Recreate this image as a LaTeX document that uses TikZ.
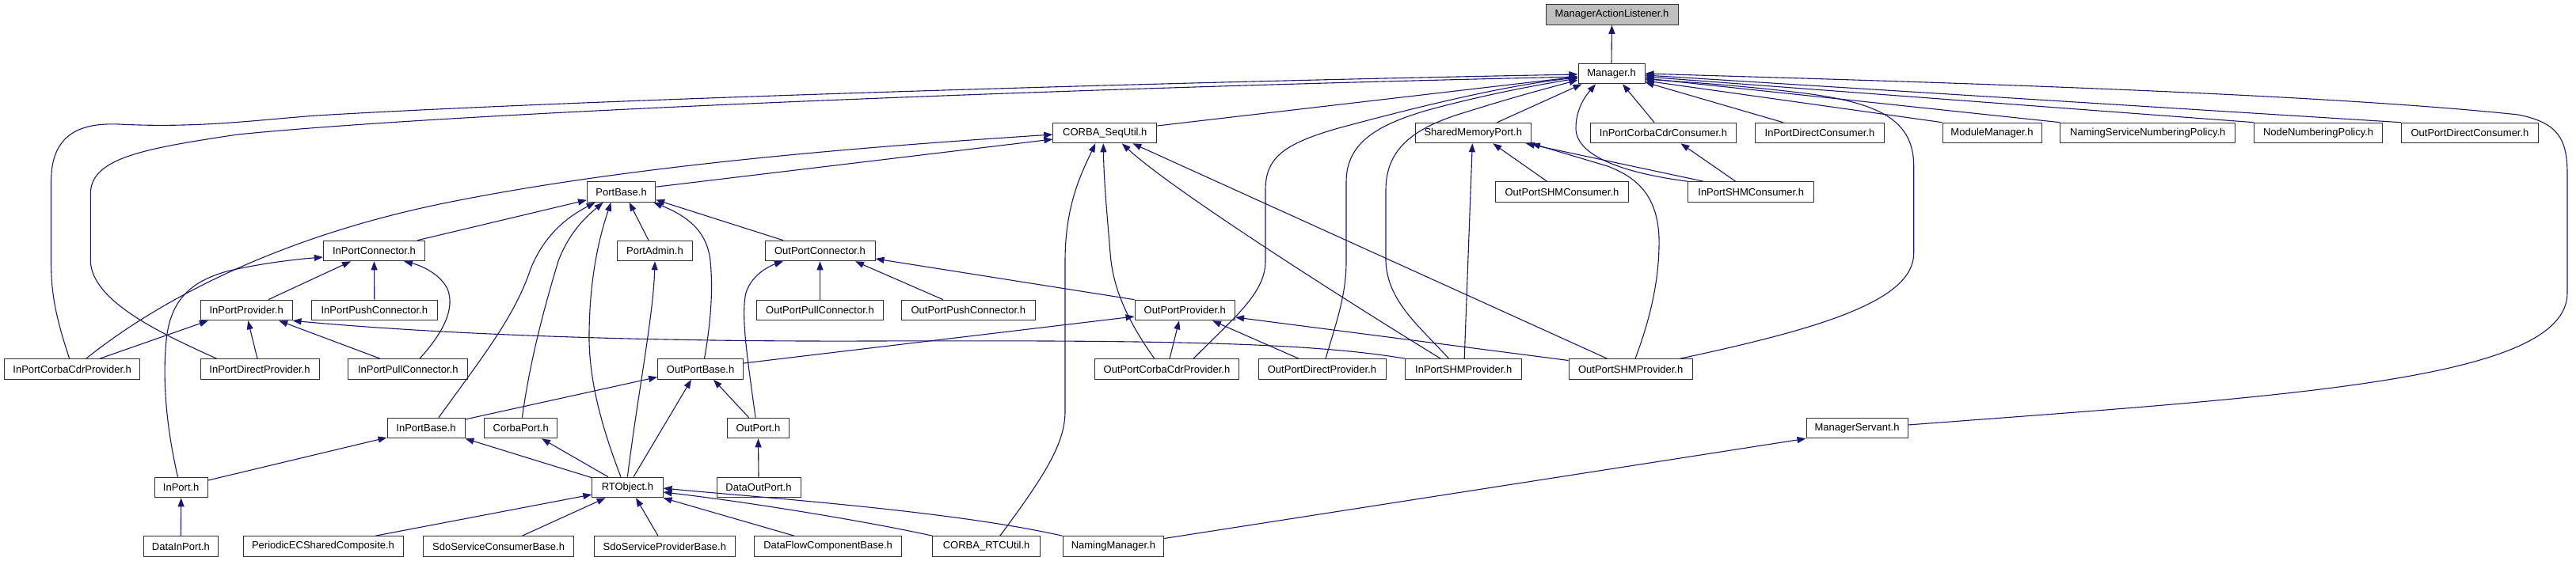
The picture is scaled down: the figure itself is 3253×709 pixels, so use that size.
\documentclass[tikz,border=0pt]{standalone}
\usepackage{fontspec}
\setmainfont{Liberation Sans}
\usetikzlibrary{arrows.meta,calc}
\definecolor{edgeblue}{HTML}{191970}
\definecolor{graybox}{HTML}{BFBFBF}
\definecolor{boxline}{HTML}{333333}
\begin{document}
\begin{tikzpicture}[x=1pt,y=-1pt,
  filebox/.style={draw=boxline,line width=1pt,fill=white,rectangle,minimum height=25.6pt,inner xsep=1pt,inner ysep=0pt,font=\fontsize{13}{15}\selectfont,text=black},
  incl/.style={draw=edgeblue,line width=1.1pt,-{Triangle[length=11pt,width=8pt]},fill=none}]
\useasboundingbox (0,0) rectangle (3253,709);
% row 0,1
\node[filebox,fill=graybox,minimum width=167pt] (MAL) at (2035.5,18.5) {ManagerActionListener.h};
\node[filebox,minimum width=84pt] (Mgr) at (2035,93) {Manager.h};
% row 2
\node[filebox,minimum width=131pt] (Seq) at (1395.3,168) {CORBA\_SeqUtil.h};
\node[filebox,minimum width=146pt] (SMP) at (1860.3,168) {SharedMemoryPort.h};
\node[filebox,minimum width=184pt] (ICCC) at (2100.5,168) {InPortCorbaCdrConsumer.h};
\node[filebox,minimum width=162.6pt] (IDC) at (2298,168) {InPortDirectConsumer.h};
\node[filebox,minimum width=125pt] (MM) at (2515.5,168) {ModuleManager.h};
\node[filebox,minimum width=221pt] (NSNP) at (2712.3,168) {NamingServiceNumberingPolicy.h};
\node[filebox,minimum width=162pt] (NNP) at (2927.6,168) {NodeNumberingPolicy.h};
\node[filebox,minimum width=173.3pt] (OPDC) at (3119,168) {OutPortDirectConsumer.h};
% row 3
\node[filebox,minimum width=86.3pt] (PB) at (784.6,242.5) {PortBase.h};
\node[filebox,minimum width=168.4pt] (OSC) at (1972.5,242.5) {OutPortSHMConsumer.h};
\node[filebox,minimum width=159pt] (ISC) at (2211.2,242.5) {InPortSHMConsumer.h};
% row 4
\node[filebox,minimum width=128.3pt] (IPC) at (472.5,317) {InPortConnector.h};
\node[filebox,minimum width=95.8pt] (PA) at (827,317) {PortAdmin.h};
\node[filebox,minimum width=139pt] (OPC) at (1035.5,317) {OutPortConnector.h};
% row 5
\node[filebox,minimum width=115.7pt] (IPP) at (311.2,392) {InPortProvider.h};
\node[filebox,minimum width=159pt] (IPushC) at (472.8,392) {InPortPushConnector.h};
\node[filebox,minimum width=160pt] (OPullC) at (1035.5,392) {OutPortPullConnector.h};
\node[filebox,minimum width=168.4pt] (OPushC) at (1222.8,392) {OutPortPushConnector.h};
\node[filebox,minimum width=126.5pt] (OPP) at (1496.3,392) {OutPortProvider.h};
% row 6
\node[filebox,minimum width=171.2pt] (ICCP) at (91.2,466.5) {InPortCorbaCdrProvider.h};
\node[filebox,minimum width=150pt] (IDP) at (328,466.5) {InPortDirectProvider.h};
\node[filebox,minimum width=150.7pt] (IPullC) at (515.3,466.5) {InPortPullConnector.h};
\node[filebox,minimum width=108pt] (OPB) at (884.6,466.5) {OutPortBase.h};
\node[filebox,minimum width=181.7pt] (OCCP) at (1473.5,466.5) {OutPortCorbaCdrProvider.h};
\node[filebox,minimum width=161pt] (ODP) at (1669.5,466.5) {OutPortDirectProvider.h};
\node[filebox,minimum width=146.7pt] (ISP) at (1848.2,466.5) {InPortSHMProvider.h};
\node[filebox,minimum width=156.3pt] (OSP) at (2059.2,466.5) {OutPortSHMProvider.h};
% row 7
\node[filebox,minimum width=98pt] (IPB) at (538,541) {InPortBase.h};
\node[filebox,minimum width=92pt] (CP) at (657.7,541) {CorbaPort.h};
\node[filebox,minimum width=78.5pt] (OP) at (957.5,541) {OutPort.h};
\node[filebox,minimum width=128pt] (MS) at (2345,541) {ManagerServant.h};
% row 8
\node[filebox,minimum width=67.4pt] (IP) at (228.7,616) {InPort.h};
\node[filebox,minimum width=89.2pt] (RTO) at (792.4,616) {RTObject.h};
\node[filebox,minimum width=106pt] (DOP) at (958,616) {DataOutPort.h};
% row 9
\node[filebox,minimum width=94.7pt] (DIP) at (228.4,690.5) {DataInPort.h};
\node[filebox,minimum width=202pt] (PECS) at (408,690.5) {PeriodicECSharedComposite.h};
\node[filebox,minimum width=190.2pt] (SSCB) at (629.6,690.5) {SdoServiceConsumerBase.h};
\node[filebox,minimum width=178.8pt] (SSPB) at (839.4,690.5) {SdoServiceProviderBase.h};
\node[filebox,minimum width=186pt] (DFCB) at (1045.6,690.5) {DataFlowComponentBase.h};
\node[filebox,minimum width=135.4pt] (CRU) at (1245.6,690.5) {CORBA\_RTCUtil.h};
\node[filebox,minimum width=127.7pt] (NM) at (1405.9,690.5) {NamingManager.h};

% ---- edges (child -> included file) ----
\draw[incl] (Mgr.north) -- (MAL.south);
% into Manager.h
\draw[incl] ($(Seq.east)+(0,-9)$) -- ($(Mgr.west)+(0,4)$);
\draw[incl] ($(ICCP.north)+(-3.5,0)$) .. controls (70,400) and (64.5,370) .. (64.5,330) -- (64.5,230) .. controls (64.5,170) and (100,155) .. (150,157) .. controls (250,162) and (320,152) .. (400,146) .. controls (700,128) and (1400,105) .. ($(Mgr.west)+(0,1)$);
\draw[incl] ($(IDP.north)+(-54.4,0)$) .. controls (200,420) and (116,380) .. (114.3,330) -- (114.3,245) .. controls (114.3,200) and (180,188) .. (300,170) .. controls (600,140) and (1400,110) .. ($(Mgr.west)+(0,4)$);
\draw[incl] ($(OCCP.north)+(33.5,0)$) .. controls (1560,400) and (1598,370) .. (1598,330) -- (1598,240) .. controls (1598,200) and (1620,182) .. (1690,162) .. controls (1790,135) and (1900,108) .. ($(Mgr.west)+(0,5)$);
\draw[incl] ($(ODP.north)+(4.5,0)$) .. controls (1690,400) and (1700,370) .. (1700,330) -- (1700,230) .. controls (1700,180) and (1740,158) .. (1800,140) .. controls (1880,118) and (1950,106) .. ($(Mgr.west)+(0,6)$);
\draw[incl] ($(ISP.north)+(-18.6,0)$) .. controls (1790,410) and (1752,380) .. (1750,330) -- (1750,240) .. controls (1750,185) and (1790,160) .. (1850,142) .. controls (1920,120) and (1960,110) .. ($(Mgr.west)+(0,8)$);
\draw[incl] ($(SMP.north)+(30.3,0)$) -- ($(Mgr.south west)+(5,0)$);
\draw[incl] ($(ICCC.north)+(-11.5,0)$) -- ($(Mgr.south)+(14,0)$);
\draw[incl] (ISC.north west) .. controls (2060,220) and (1990,200) .. (1990,162) .. controls (1990,135) and (2005,118) .. ($(Mgr.south)+(-20,0)$);
\draw[incl] ($(OSP.north)+(62.5,0)$) .. controls (2300,415) and (2416.7,380) .. (2416.7,320) -- (2416.7,210) .. controls (2416.7,150) and (2370,130) .. (2280,118) .. controls (2200,108) and (2120,103) .. ($(Mgr.east)+(0,7)$);
\draw[incl] ($(IDC.north)+(-46.3,0)$) -- ($(Mgr.east)+(0,11)$);
\draw[incl] (MM.north west) -- ($(Mgr.east)+(0,9)$);
\draw[incl] (NSNP.north west) -- ($(Mgr.east)+(0,6)$);
\draw[incl] (NNP.north west) -- ($(Mgr.east)+(0,4)$);
\draw[incl] (OPDC.north west) -- ($(Mgr.east)+(0,2)$);
\draw[incl] ($(MS.east)+(0,-4)$) .. controls (2900,500) and (3242,480) .. (3242,370) -- (3242,220) .. controls (3242,175) and (3230,155) .. (3180,145) .. controls (2900,115) and (2300,100) .. ($(Mgr.east)+(0,0)$);
% into SharedMemoryPort.h
\draw[incl] ($(OSP.north)+(5.8,0)$) .. controls (2085,400) and (2096,350) .. (2095,300) .. controls (2093,250) and (2070,225) .. (2030,210) -- (SMP.south east);
\draw[incl] ($(ISC.north west)+(20,0)$) -- ($(SMP.south east)+(-7,0)$);
\draw[incl] ($(OSC.north)+(-19,0)$) -- ($(SMP.south)+(25,0)$);
\draw[incl] ($(ISP.north)+(1,0)$) -- ($(SMP.south)+(-1,0)$);
% into InPortCorbaCdrConsumer.h
\draw[incl] ($(ISC.north)+(-19.5,0)$) -- ($(ICCC.south)+(22,0)$);
% into CORBA_SeqUtil.h
\draw[incl] ($(ICCP.north)+(17.5,0)$) .. controls (200,380) and (350,300) .. (560,257) .. controls (800,208) and (1100,185) .. ($(Seq.west)+(0,2)$);
\draw[incl] ($(PB.north east)+(0,7)$) -- ($(Seq.west)+(0,8)$);
\draw[incl] ($(CRU.north)+(17.2,0)$) .. controls (1320,600) and (1345,560) .. (1345,520) -- (1345,330) .. controls (1345,260) and (1365,220) .. ($(Seq.south)+(-12,0)$);
\draw[incl] ($(OCCP.north)+(-15.7,0)$) .. controls (1420,400) and (1405,360) .. (1402,320) .. controls (1398,270) and (1394,230) .. ($(Seq.south)+(-2,0)$);
\draw[incl] ($(ISP.north)+(-29,0)$) .. controls (1700,380) and (1480,240) .. ($(Seq.south)+(21.5,0)$);
\draw[incl] ($(OSP.north)+(-29.7,0)$) -- ($(Seq.south)+(35,0)$);
% into PortBase.h
\draw[incl] ($(IPC.north east)+(-10,0)$) -- ($(PB.south west)+(0,-3)$);
\draw[incl] ($(IPB.north)+(16,0)$) .. controls (610,450) and (650,400) .. (670,340) .. controls (690,290) and (725,270) .. ($(PB.south)+(-33,0)$);
\draw[incl] ($(CP.north)+(1.7,0)$) .. controls (670,450) and (690,380) .. (705,330) .. controls (720,290) and (745,270) .. ($(PB.south)+(-23,0)$);
\draw[incl] ($(RTO.north)+(-8.4,0)$) .. controls (760,540) and (743,480) .. (744,420) .. controls (745,340) and (760,290) .. ($(PB.south)+(-13,0)$);
\draw[incl] ($(PA.north)+(-8,0)$) -- ($(PB.south)+(10,0)$);
\draw[incl] ($(OPB.north)+(4.9,0)$) .. controls (899,400) and (900,360) .. (897,330) .. controls (893,290) and (865,272) .. ($(PB.south east)+(-3,0)$);
\draw[incl] ($(OPC.north)+(-46.5,0)$) -- ($(PB.east)+(0,10)$);
% into InPortConnector.h
\draw[incl] ($(IPP.north)+(27.6,0)$) -- ($(IPC.south)+(-29.5,0)$);
\draw[incl] (IPushC.north) -- (IPC.south);
\draw[incl] ($(IPullC.north)+(14.7,0)$) .. controls (560,420) and (575,390) .. (565,365) .. controls (555,345) and (530,335) .. ($(IPC.south)+(37.5,0)$);
\draw[incl] ($(IP.north)+(-4.2,0)$) .. controls (210,540) and (205,480) .. (210,430) .. controls (215,380) and (240,355) .. (290,342) .. controls (330,333) and (370,328) .. ($(IPC.west)+(0,8)$);
% into InPortProvider.h
\draw[incl] ($(ICCP.north)+(34.8,0)$) -- ($(IPP.south west)+(10,0)$);
\draw[incl] ($(IDP.north)+(-3,0)$) -- ($(IPP.south)+(2,0)$);
\draw[incl] ($(IPullC.north)+(-35.3,0)$) -- ($(IPP.south)+(41,0)$);
\draw[incl] (ISP.north west) .. controls (1650,432) and (1450,430) .. (1100,431) .. controls (800,432) and (550,422) .. (IPP.south east);
% into OutPortConnector.h
\draw[incl] (OPullC.north) -- (OPC.south);
\draw[incl] ($(OP.north)+(-3.5,0)$) .. controls (945,460) and (935,400) .. (942,370) .. controls (950,345) and (975,335) .. ($(OPC.south)+(-46.5,0)$);
\draw[incl] ($(OPushC.north)+(-31.8,0)$) -- ($(OPC.south)+(44.5,0)$);
\draw[incl] (OPP.north west) -- ($(OPC.east)+(0,10)$);
% into OutPortProvider.h
\draw[incl] ($(OPB.east)+(0,-7.5)$) -- ($(OPP.west)+(0,8)$);
\draw[incl] ($(OCCP.north)+(3.5,0)$) -- ($(OPP.south)+(-7.3,0)$);
\draw[incl] ($(ODP.north)+(-29.5,0)$) -- ($(OPP.south)+(34.7,0)$);
\draw[incl] ($(OSP.west)+(0,-11)$) -- ($(OPP.east)+(0,9)$);
% into OutPortBase.h
\draw[incl] ($(IPB.east)+(0,-11)$) -- ($(OPB.west)+(0,10)$);
\draw[incl] ($(RTO.north)+(7.6,0)$) -- ($(OPB.south)+(-11.6,0)$);
\draw[incl] ($(OP.north)+(-11.9,0)$) -- ($(OPB.south)+(16.4,0)$);
% into InPortBase.h, CorbaPort.h, PortAdmin.h
\draw[incl] ($(IP.east)+(0,-9)$) -- ($(IPB.west)+(0,12)$);
\draw[incl] ($(RTO.north west)+(0,1)$) -- (IPB.south east);
\draw[incl] ($(RTO.north)+(-24.4,0)$) -- ($(CP.south)+(26.3,0)$);
\draw[incl] (RTO.north) .. controls (805,500) and (825,400) .. (PA.south);
% into OutPort.h, InPort.h
\draw[incl] (DOP.north) -- (OP.south);
\draw[incl] (DIP.north) -- (IP.south);
% into RTObject.h
\draw[incl] ($(PECS.north)+(66,0)$) -- ($(RTO.west)+(0,9)$);
\draw[incl] ($(SSCB.north)+(29.8,0)$) -- ($(RTO.south)+(-27.8,0)$);
\draw[incl] ($(SSPB.north)+(-8.4,0)$) -- ($(RTO.south)+(10.6,0)$);
\draw[incl] ($(DFCB.north)+(-42.6,0)$) -- (RTO.south east);
\draw[incl] (CRU.north west) .. controls (1100,660) and (950,635) .. ($(RTO.east)+(0,6)$);
\draw[incl] (NM.north west) .. controls (1200,645) and (950,628) .. ($(RTO.east)+(0,1)$);
% into ManagerServant.h
\draw[incl] ($(NM.east)+(0,-10)$) -- (MS.south west);
\end{tikzpicture}
\end{document}
